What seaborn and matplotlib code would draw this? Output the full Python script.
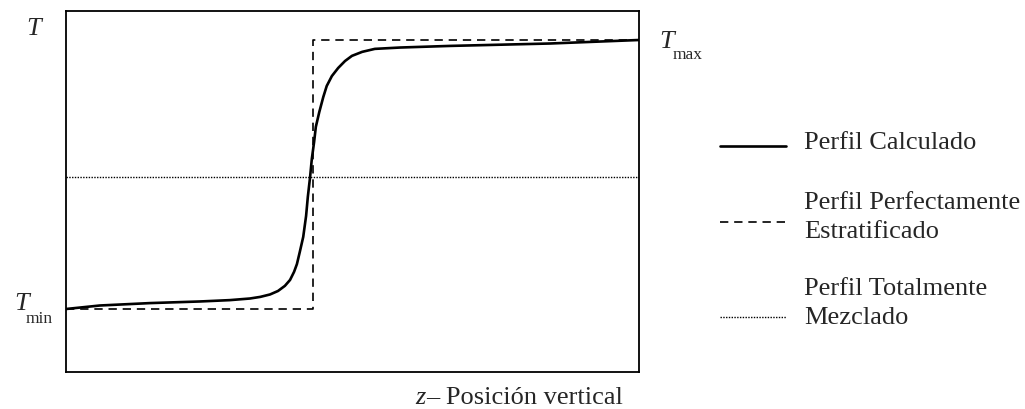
import matplotlib
matplotlib.use("Agg")
import matplotlib.pyplot as plt
from matplotlib.lines import Line2D
import seaborn as sns
import pandas as pd

# Perfil calculado (posición normalizada z, temperatura normalizada T)
z_calc = [0.000, 0.059, 0.147, 0.234, 0.286, 0.321, 0.339, 0.356, 0.370, 0.382,
          0.391, 0.398, 0.403, 0.408, 0.414, 0.419, 0.422, 0.426, 0.429, 0.433,
          0.436, 0.442, 0.449, 0.455, 0.464, 0.475, 0.487, 0.499, 0.517, 0.539,
          0.583, 0.670, 0.845, 1.000]
t_calc = [0.000, 0.013, 0.022, 0.028, 0.033, 0.039, 0.045, 0.054, 0.067, 0.086,
          0.108, 0.138, 0.167, 0.212, 0.268, 0.346, 0.416, 0.491, 0.558, 0.621,
          0.677, 0.732, 0.788, 0.829, 0.866, 0.896, 0.922, 0.941, 0.956, 0.967,
          0.972, 0.978, 0.987, 1.000]

# Perfil perfectamente estratificado
z_strat = [0.000, 0.431, 0.431, 1.000]
t_strat = [0.000, 0.000, 1.000, 1.000]

# Perfil totalmente mezclado
t_mix = 0.491

labels = ["Perfil Calculado", "Perfil Perfectamente\nEstratificado",
          "Perfil Totalmente\nMezclado"]

sns.set_theme(style="white")
plt.rcParams['font.family'] = ['Liberation Serif', 'DejaVu Serif']

W, H = 1025, 410
fig = plt.figure(figsize=(W / 100, H / 100), dpi=100)
ax = fig.add_axes([66 / W, 1 - 373 / H, (639 - 66) / W, (373 - 12) / H])

dash = (0, (5, 3.5))
dot = (0, (1, 1))

df_calc = pd.DataFrame({"z": z_calc, "T": t_calc})
df_strat = pd.DataFrame({"z": z_strat, "T": t_strat})

sns.lineplot(data=df_calc, x="z", y="T", sort=False, estimator=None, errorbar=None,
             color="black", lw=1.9, ax=ax)
sns.lineplot(data=df_strat, x="z", y="T", sort=False, estimator=None, errorbar=None,
             color="black", lw=1.2, ax=ax, linestyle=dash)
ax.axhline(t_mix, color="black", lw=1.0, linestyle=dot)

ax.set_xlim(0, 1)
ax.set_ylim(-63 / 269, 298 / 269)
ax.set_xticks([])
ax.set_yticks([])
ax.set_xlabel("")
ax.set_ylabel("")
for s in ax.spines.values():
    s.set_color("black")
    s.set_linewidth(1.3)

fs = 19
sub = 12.5
# etiquetas de eje
fig.text(34 / W, 1 - 29 / H, "T", fontsize=fs, style="italic", ha="center", va="center")
fig.text(22 / W, 1 - 304 / H, "T", fontsize=fs, style="italic", ha="center", va="center")
fig.text(39 / W, 1 - 319 / H, "min", fontsize=sub, ha="center", va="center")
fig.text(667 / W, 1 - 42 / H, "T", fontsize=fs, style="italic", ha="center", va="center")
fig.text(688 / W, 1 - 55 / H, "max", fontsize=sub, ha="center", va="center")

fig.text(415 / W, 1 - 398 / H, "z", fontsize=fs, style="italic", ha="left", va="center")
fig.text(426 / W, 1 - 398 / H, "– Posición vertical", fontsize=fs, ha="left", va="center")

# leyenda manual
handles = [
    dict(y=147, ls="-", lw=1.9),
    dict(y=223, ls=dash, lw=1.2),
    dict(y=318, ls=dot, lw=1.0),
]
text_rows = [[143], [203, 232], [289, 318]]
for lab, h, rows in zip(labels, handles, text_rows):
    fig.add_artist(Line2D([720 / W, 786 / W], [1 - h["y"] / H] * 2, color="black",
                          lw=h["lw"], linestyle=h["ls"], transform=fig.transFigure))
    for line, yy in zip(lab.split("\n"), rows):
        fig.text(804 / W, 1 - yy / H, line, fontsize=fs, ha="left", va="center")

fig.savefig("out.png", dpi=100)
